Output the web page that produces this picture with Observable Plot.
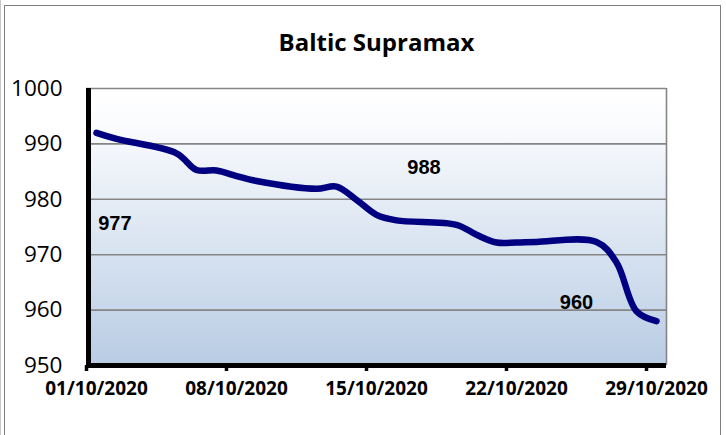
<!DOCTYPE html>
<html><head><meta charset="utf-8">
<script src="https://cdn.jsdelivr.net/npm/d3@7"></script>
<script src="https://cdn.jsdelivr.net/npm/@observablehq/plot@0.6"></script>
<style>
body{margin:0;background:#fff}
#wrap{position:relative;width:726px;height:435px;overflow:hidden}
#border{position:absolute;left:4px;top:5px;width:715px;height:440px;border:1.5px solid #7f7f7f;border-bottom:none}
#border2{position:absolute;left:0;top:0;width:1px;height:435px;background:#c8c8c8}
</style>
</head><body>
<div id="wrap"><div id="chart"></div><div id="border"></div><div id="border2"></div></div>
<script>
const title = "Baltic Supramax";
const dates = ["2020-10-01","2020-10-02","2020-10-05","2020-10-06","2020-10-07","2020-10-08","2020-10-09",
  "2020-10-12","2020-10-13","2020-10-14","2020-10-15","2020-10-16","2020-10-19","2020-10-20",
  "2020-10-21","2020-10-22","2020-10-23","2020-10-26","2020-10-27","2020-10-28","2020-10-29"];
const values = [992, 990.9, 988.3, 985.3, 985.2, 984.2, 983.3,
  981.9, 982.3, 979.9, 977.2, 976.2, 975.4, 973.6,
  972.2, 972.2, 972.3, 972.3, 968.6, 959.8, 958];
const tickLabels = ["2020-10-01","2020-10-08","2020-10-15","2020-10-22","2020-10-29"];
const yTicks = [950, 960, 970, 980, 990, 1000];
const noteTexts = ["977", "988", "960"];
const noteDates = ["2020-10-02T10:00Z", "2020-10-17T21:00Z", "2020-10-25T12:00Z"];
const noteValues = [975.6, 985.8, 961.3];

const data = dates.map((d, i) => ({date: new Date(d + "T12:00Z"), value: values[i]}));
const notes = noteTexts.map((t, i) => ({text: t, date: new Date(noteDates[i]), value: noteValues[i]}));
const ticks = tickLabels.map(d => new Date(d + "T00:00Z"));
const labelTicks = tickLabels.map(d => new Date(d + "T12:00Z"));
const x0 = new Date("2020-10-01T00:00Z"), x1 = new Date("2020-10-30T00:00Z");
const fmt = d3.utcFormat("%d/%m/%Y");

const plot = Plot.plot({
  width: 726, height: 435,
  marginTop: 88, marginBottom: 70, marginLeft: 86, marginRight: 60,
  style: {background: "transparent", overflow: "visible"},
  x: {type: "utc", domain: [x0, x1]},
  y: {domain: [950, 1000]},
  marks: [
    Plot.frame({fill: "url(#bg)", stroke: null}),
    Plot.gridY(yTicks.slice(1), {stroke: "#858585", strokeOpacity: 1, strokeWidth: 1.6}),
    Plot.ruleX([x1], {stroke: "#858585", strokeWidth: 1.6}),
    Plot.axisY({ticks: yTicks, tickSize: 0, tickPadding: 24, tickFormat: d => String(d), label: null, fontSize: 22.5, fontFamily: "Open Sans", fill: "#000"}),
    Plot.axisX({ticks: labelTicks, tickSize: 0, tickPadding: 16, tickFormat: fmt, label: null, fontSize: 19, fontWeight: "bold", fontFamily: "Open Sans", fill: "#000"}),
    Plot.axisX({ticks, tickSize: 6, tickFormat: () => "", label: null, stroke: "#000", strokeWidth: 3.5}),
    Plot.line(data, {x: "date", y: "value", curve: "catmull-rom", stroke: "#000080", strokeWidth: 6.5, strokeLinecap: "round", strokeLinejoin: "round"}),
    Plot.ruleY([950], {x1: x0, x2: x1, stroke: "#000", strokeWidth: 5}),
    Plot.ruleX([x0], {stroke: "#000", strokeWidth: 5, dx: 2}),
    Plot.text(notes, {x: "date", y: "value", text: "text", textAnchor: "middle", fontSize: 20, fontWeight: "bold", fontFamily: "Liberation Sans", fill: "#000"}),
    Plot.text([title], {frameAnchor: "top", lineAnchor: "middle", dy: -45, fontSize: 24, fontWeight: "bold", fontFamily: "Open Sans", fill: "#000"})
  ]
});
d3.select(plot).insert("defs", ":first-child").html(
  '<linearGradient id="bg" x1="0" y1="0" x2="0" y2="1"><stop offset="0" stop-color="#ffffff"/><stop offset="0.12" stop-color="#fbfcfe"/><stop offset="1" stop-color="#b8cce4"/></linearGradient>');
document.getElementById("chart").appendChild(plot);
</script>
</body></html>
